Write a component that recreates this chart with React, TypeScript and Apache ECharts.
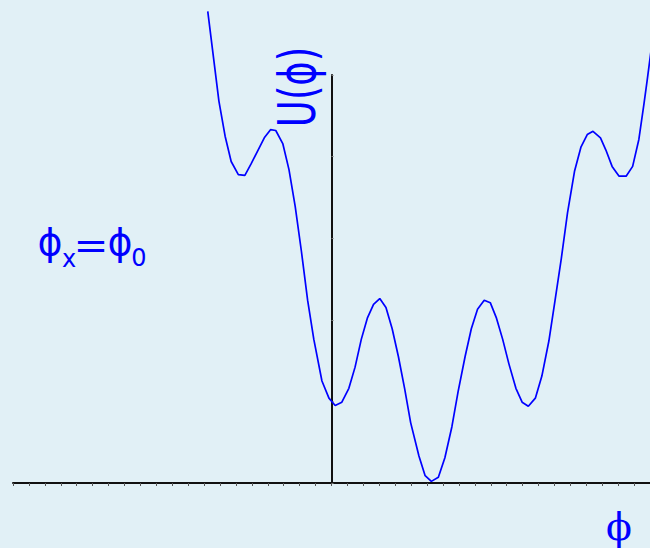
import React, { useEffect, useRef } from "react";
import * as echarts from "echarts";

// φ positions (axis tick units) and potential U(φ) values
const phiValues = [
  -7.77, -7.07, -6.68, -6.3, -5.85, -5.44, -5.05, -4.61, -4.22, -3.83, -3.5, -3.06,
  -2.67, -2.28, -1.89, -1.5, -1.11, -0.6, -0.16, 0.23, 0.65, 1.09, 1.48, 1.87,
  2.25, 2.64, 3.03, 3.42, 3.81, 4.2, 4.59, 4.97, 5.49, 5.88, 6.27, 6.71, 7.12,
  7.56, 7.95, 8.39, 8.78, 9.17, 9.59, 9.97, 10.36, 10.75, 11.14, 11.58, 11.97,
  12.36, 12.8, 13.21, 13.65, 14.04, 14.43, 14.82, 15.26, 15.67, 16.06, 16.42,
  16.89, 17.23, 17.62, 18.06, 18.5, 18.91, 19.3, 19.61, 19.82, 20.2,
];
const uValues = [
  5.78, 4.68, 4.25, 3.94, 3.78, 3.77, 3.91, 4.08, 4.23, 4.33, 4.32, 4.16,
  3.84, 3.39, 2.84, 2.24, 1.76, 1.25, 1.04, 0.95, 0.99, 1.16, 1.42, 1.76,
  2.02, 2.19, 2.26, 2.15, 1.89, 1.55, 1.16, 0.74, 0.33, 0.09, 0.02, 0.07, 0.31,
  0.69, 1.12, 1.55, 1.89, 2.13, 2.24, 2.21, 2.02, 1.76, 1.46, 1.16, 0.99,
  0.94, 1.04, 1.31, 1.74, 2.24, 2.75, 3.31, 3.82, 4.12, 4.27, 4.31,
  4.23, 4.08, 3.88, 3.76, 3.76, 3.88, 4.21, 4.63, 4.93, 5.5,
];
const xRange = [-20, 20];
const yRange = [0, 5];

const yLabel = "U(ϕ)";
const xLabel = "ϕ";
const condMain = "ϕ";
const condSubX = "x";
const condEq = "=";
const condRhs = "ϕ";
const condSub0 = "0";

const BLUE = "#0000ff";
const AXIS = "#111111";

export default function App() {
  const ref = useRef<HTMLDivElement>(null);
  useEffect(() => {
    if (!ref.current) return;
    const chart = echarts.init(ref.current, null, { renderer: "svg" });
    const sansFont = '"DejaVu Sans", "Liberation Sans", sans-serif';
    const txt = (text: string, x: number, y: number, font: string, extra: any = {}) => ({
      type: "text",
      x,
      y,
      ...extra,
      style: { text, font, fill: BLUE, align: "center", verticalAlign: "middle" },
    });
    chart.setOption({
      animation: false,
      backgroundColor: "#e1f0f6",
      grid: { left: 13, right: -3, top: 75, bottom: 65, containLabel: false },
      xAxis: {
        type: "value",
        min: xRange[0],
        max: xRange[1],
        interval: 1,
        axisLine: { onZero: true, lineStyle: { color: AXIS, width: 2 } },
        axisTick: { show: true, length: 3, lineStyle: { color: "#555", width: 1 } },
        axisLabel: { show: false },
        splitLine: { show: false },
      },
      yAxis: {
        type: "value",
        min: yRange[0],
        max: yRange[1],
        interval: 1,
        axisLine: { show: true, onZero: true, lineStyle: { color: AXIS, width: 2 } },
        axisTick: { show: true, inside: true, length: 2, lineStyle: { color: "#777", width: 1 } },
        axisLabel: { show: false },
        splitLine: { show: false },
      },
      series: [
        {
          type: "line",
          data: phiValues.map((p, i) => [p, uValues[i]]),
          showSymbol: false,
          clip: false,
          lineStyle: { color: BLUE, width: 1.7 },
          silent: true,
        },
      ],
      graphic: [
        txt(yLabel, 298, 87, `37px ${sansFont}`, { rotation: Math.PI / 2, scaleY: 1.38 }),
        txt(condMain, 50, 242, `38px ${sansFont}`),
        txt(condSubX, 69, 259, `24px ${sansFont}`),
        txt(condEq, 91, 245, `38px ${sansFont}`, { scaleX: 1.1 }),
        txt(condRhs, 120, 242, `38px ${sansFont}`),
        txt(condSub0, 139, 258, `24px ${sansFont}`),
        txt(xLabel, 619, 527, '38px "DejaVu Serif", "Liberation Serif", serif'),
      ],
    });
    return () => chart.dispose();
  }, []);
  return (
    <div
      ref={ref}
      style={{ position: "fixed", left: 0, top: 0, width: 650, height: 548 }}
    />
  );
}
